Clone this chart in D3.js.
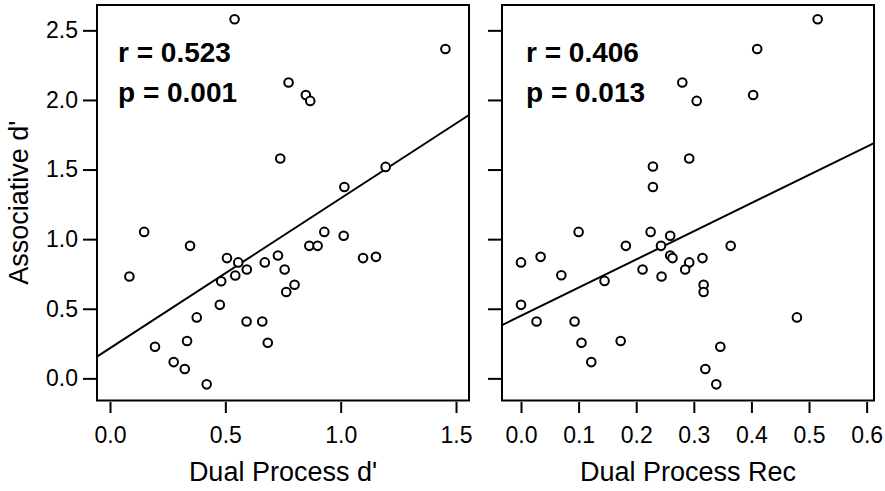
<html>
<head>
<style>
    body { margin:0; background:white; }
    text { font-family:"Liberation Sans", Arial, Helvetica, sans-serif; }
</style>
</head>
<body>
<svg id="plot"></svg>
<script src="https://d3js.org/d3.v7.min.js"></script>
<script>

//dual process d' vs associative d'
var leftX = [0.540,1.454,0.774,0.849,0.868,0.738,1.016,1.195,0.148,0.347,
             0.084,0.507,0.556,0.593,0.543,0.482,0.671,0.728,0.757,0.800,
             0.764,0.864,0.900,0.929,1.013,1.097,1.153,0.476,0.376,0.592,
             0.660,0.195,0.334,0.684,0.276,0.324,0.419];
var leftY = [2.580,2.366,2.125,2.036,1.993,1.579,1.375,1.519,1.052,0.952,
             0.732,0.864,0.833,0.782,0.739,0.698,0.833,0.883,0.782,0.672,
             0.620,0.952,0.952,1.052,1.024,0.864,0.873,0.528,0.438,0.409,
             0.409,0.227,0.268,0.256,0.117,0.067,-0.043];

//dual process rec vs associative d'
var rightX = [0.515,0.410,0.280,0.305,0.403,0.292,0.229,0.229,0.100,0.225,
              0.259,0.182,0.243,0.364,0.000,0.034,0.070,0.145,0.211,0.244,
              0.259,0.263,0.292,0.285,0.315,0.317,0.317,0.000,0.027,0.093,
              0.479,0.105,0.173,0.346,0.122,0.320,0.339];
var rightY = [2.580,2.366,2.125,1.993,2.036,1.579,1.522,1.375,1.052,1.052,
              1.024,0.952,0.952,0.952,0.833,0.873,0.741,0.700,0.782,0.732,
              0.883,0.864,0.833,0.782,0.864,0.672,0.620,0.528,0.409,0.409,
              0.438,0.256,0.268,0.227,0.117,0.067,-0.043];

//regression lines [intercept, slope]
var fitLeft = [0.217, 1.076];
var fitRight = [0.449, 2.025];

var statsLeft = ["r = 0.523", "p = 0.001"];
var statsRight = ["r = 0.406", "p = 0.013"];

var yTicks = [0, 0.5, 1.0, 1.5, 2.0, 2.5];
var leftTicks = [0, 0.5, 1.0, 1.5];
var rightTicks = [0, 0.1, 0.2, 0.3, 0.4, 0.5, 0.6];

var yTitle = "Associative d'";
var leftTitle = "Dual Process d'";
var rightTitle = "Dual Process Rec";

var screen = {width:885, height:491};
var box = {top:5, height:395.5, width:372};

var svg = d3.select("#plot")
    .attr("width", screen.width)
    .attr("height", screen.height);

var yScale = d3.scaleLinear()
    .domain([-0.159, 2.682])
    .range([box.top + box.height, box.top]);

var drawPanel = function(left, xDomain, ticks, xs, ys, fit, stats, statsOffset, title, showLabels)
{
    var xScale = d3.scaleLinear()
        .domain(xDomain)
        .range([left, left + box.width]);

    //y axis
    var yAxis = d3.axisLeft(yScale)
        .tickValues(yTicks)
        .tickSize(14)
        .tickSizeOuter(0)
        .tickPadding(5)
        .tickFormat(showLabels ? d3.format(".1f") : "");

    var gy = svg.append("g")
        .attr("transform", "translate(" + left + ",0)")
        .call(yAxis);
    gy.select(".domain").remove();

    //x axis
    var xAxis = d3.axisBottom(xScale)
        .tickValues(ticks)
        .tickSize(11)
        .tickSizeOuter(0)
        .tickPadding(14)
        .tickFormat(d3.format(".1f"));

    var gx = svg.append("g")
        .attr("transform", "translate(0," + (box.top + box.height + 1.5) + ")")
        .call(xAxis);
    gx.select(".domain").remove();

    svg.selectAll(".tick line")
        .attr("stroke", "black")
        .attr("stroke-width", 2);
    svg.selectAll(".tick text")
        .attr("font-size", 23)
        .attr("font-family", "Liberation Sans, Arial, sans-serif")
        .attr("fill", "black");

    //frame
    svg.append("rect")
        .attr("x", left)
        .attr("y", box.top)
        .attr("width", box.width)
        .attr("height", box.height)
        .attr("fill", "none")
        .attr("stroke", "black")
        .attr("stroke-width", 2);

    //regression line
    svg.append("line")
        .attr("x1", xScale(xDomain[0]))
        .attr("y1", yScale(fit[0] + fit[1] * xDomain[0]))
        .attr("x2", xScale(xDomain[1]))
        .attr("y2", yScale(fit[0] + fit[1] * xDomain[1]))
        .attr("stroke", "black")
        .attr("stroke-width", 2);

    //points
    svg.append("g")
        .selectAll("circle")
        .data(xs)
        .enter()
        .append("circle")
        .attr("cx", function(d) { return xScale(d); })
        .attr("cy", function(d, i) { return yScale(ys[i]); })
        .attr("r", 4.3)
        .attr("fill", "white")
        .attr("stroke", "black")
        .attr("stroke-width", 2);

    //r and p
    svg.append("g")
        .selectAll("text")
        .data(stats)
        .enter()
        .append("text")
        .attr("x", left + statsOffset)
        .attr("y", function(d, i) { return 62 + i * 40; })
        .attr("font-size", 28)
        .attr("font-weight", "bold")
        .text(function(d) { return d; });

    svg.append("text")
        .attr("x", left + box.width / 2)
        .attr("y", 481)
        .attr("text-anchor", "middle")
        .attr("font-size", 27)
        .text(title);
}

drawPanel(97, [-0.0564, 1.5563], leftTicks, leftX, leftY, fitLeft, statsLeft, 21, leftTitle, true);
drawPanel(502, [-0.033, 0.6128], rightTicks, rightX, rightY, fitRight, statsRight, 24, rightTitle, false);

svg.append("text")
    .attr("transform", "translate(28," + (box.top + box.height / 2) + ") rotate(-90)")
    .attr("text-anchor", "middle")
    .attr("font-size", 27)
    .text(yTitle);

</script>
</body>
</html>
